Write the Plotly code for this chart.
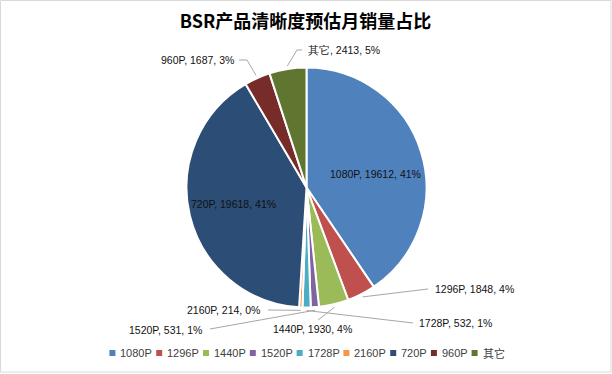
import math
import plotly.graph_objects as go

# ---- data ----
categories = ["1080P", "1296P", "1440P", "1520P", "1728P", "2160P", "720P", "960P", "其它"]
sales = [19612, 1848, 1930, 531, 532, 214, 19618, 1687, 2413]
title_text = "BSR产品清晰度预估月销量占比"

# ---- styles ----
colors = ["#4F81BD", "#C0504D", "#9BBB59", "#8064A2", "#4BACC6",
          "#F79646", "#2C4D75", "#772C2A", "#5F7530"]
W, H = 612, 374
CX, CY, R = 306.5, 187.5, 120.0

# label placement (pixels): inside labels by position, outside labels with leader path
label_layout = {
    "1080P": dict(text=(375, 174), side="center", path=None),
    "720P": dict(text=(234, 204), side="center", path=None),
    "1296P": dict(text=(433, 289), side="left", path=[(428, 289)]),
    "1440P": dict(text=(312, 329), side="center", path=[(318, 320)]),
    "1520P": dict(text=(204, 330), side="right", path=[(210, 329)]),
    "1728P": dict(text=(417, 323), side="left", path=[(413, 323)]),
    "2160P": dict(text=(262, 310), side="right", path=[(268, 310)]),
    "960P": dict(text=(236, 60), side="right", path=[(247, 60), (239, 60)]),
    "其它": dict(text=(306, 50), side="left", path=[(297, 50), (302, 50)]),
}


def px(x):
    return x / W


def py(y):
    return 1 - y / H


fig = go.Figure()
fig.add_trace(go.Pie(
    labels=categories, values=sales, sort=False, direction="clockwise",
    rotation=0, textinfo="none", showlegend=False, hoverinfo="label+value+percent",
    marker=dict(colors=colors, line=dict(color="white", width=2)),
    domain=dict(x=[px(CX - R), px(CX + R)], y=[py(CY + R), py(CY - R)]),
))

total = sum(sales)
shapes = []
annotations = []
cum = 0.0
for lab, val in zip(categories, sales):
    frac = val / total
    mid = (cum + frac / 2) * 2 * math.pi
    cum += frac
    pct = int(math.floor(frac * 100 + 0.5))
    txt = f"{lab}, {val}, {pct}%"
    spec = label_layout[lab]
    tx, ty = spec["text"]
    if spec["path"]:
        ex = CX + (R + 3) * math.sin(mid)
        ey = CY - (R + 3) * math.cos(mid)
        pts = [(ex, ey)] + spec["path"]
        d = "M " + " L ".join(f"{px(x)},{py(y)}" for x, y in pts)
        shapes.append(dict(type="path", xref="paper", yref="paper", path=d,
                           line=dict(color="#A6A6A6", width=1)))
    annotations.append(dict(
        x=px(tx), y=py(ty), xref="paper", yref="paper", text=txt,
        showarrow=False, xanchor=spec["side"], yanchor="middle",
        font=dict(family="Liberation Sans, Arial", size=10.5, color="#111111"),
    ))

# ---- manual legend ----
def text_w(s, size=11):
    w = 0.0
    for ch in s:
        if ch.isdigit():
            w += 0.556 * size
        elif ch == "P":
            w += 0.667 * size
        elif ord(ch) > 0x2E80:
            w += 1.0 * size
        else:
            w += 0.556 * size
    return w


items_w = [10 + text_w(c) for c in categories]
total_w = sum(items_w) + 5 * (len(categories) - 1)
lx = CX - total_w / 2
ly = 353
for c, col, iw in zip(categories, colors, items_w):
    shapes.append(dict(type="rect", xref="paper", yref="paper",
                       x0=px(lx), x1=px(lx + 6), y0=py(ly + 3), y1=py(ly - 3),
                       fillcolor=col, line=dict(width=0)))
    annotations.append(dict(
        x=px(lx + 9), y=py(ly), xref="paper", yref="paper", text=c,
        showarrow=False, xanchor="left", yanchor="middle", xshift=0,
        font=dict(family="Liberation Sans, Arial, Noto Sans CJK SC", size=11, color="#404040"),
    ))
    lx += iw + 5

# border
shapes.append(dict(type="rect", xref="paper", yref="paper",
                   x0=px(0.5), x1=px(611), y0=py(372), y1=py(0.5),
                   line=dict(color="#D9D9D9", width=1), fillcolor="rgba(0,0,0,0)"))

fig.update_layout(
    width=W, height=H,
    margin=dict(l=0, r=0, t=0, b=0),
    paper_bgcolor="white", plot_bgcolor="white",
    title=dict(text=f"<b>{title_text}</b>", x=px(305.5), xanchor="center",
               y=py(22), yanchor="middle",
               font=dict(family="Noto Sans CJK SC", size=18, color="#000000")),
    shapes=shapes, annotations=annotations,
)

fig.write_html("out.html", config={"displayModeBar": False},
               post_script="document.body.style.margin='0';document.body.style.padding='0';")
